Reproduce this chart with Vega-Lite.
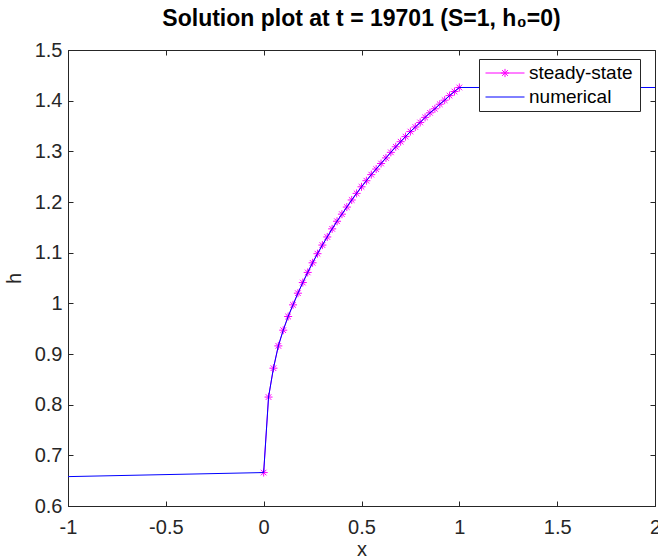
{
  "$schema": "https://vega.github.io/schema/vega-lite/v6.json",
  "width": 587,
  "height": 456,
  "autosize": {"type": "none"},
  "padding": {"left": 68, "top": 50, "right": 3, "bottom": 54},
  "background": "white",
  "title": {
    "text": "Solution plot at t = 19701 (S=1, h₀=0)",
    "font": "Liberation Sans",
    "fontSize": 23,
    "fontWeight": "bold",
    "color": "#000000",
    "anchor": "middle",
    "offset": 9
  },
  "datasets": {
    "steady": [
      {"x": 0, "h": 0.666, "series": "steady-state"},
      {"x": 0.025, "h": 0.815, "series": "steady-state"},
      {"x": 0.05, "h": 0.872, "series": "steady-state"},
      {"x": 0.075, "h": 0.916, "series": "steady-state"},
      {"x": 0.1, "h": 0.947, "series": "steady-state"},
      {"x": 0.125, "h": 0.974, "series": "steady-state"},
      {"x": 0.15, "h": 0.997, "series": "steady-state"},
      {"x": 0.175, "h": 1.02, "series": "steady-state"},
      {"x": 0.2, "h": 1.041, "series": "steady-state"},
      {"x": 0.225, "h": 1.061, "series": "steady-state"},
      {"x": 0.25, "h": 1.08, "series": "steady-state"},
      {"x": 0.275, "h": 1.098, "series": "steady-state"},
      {"x": 0.3, "h": 1.115, "series": "steady-state"},
      {"x": 0.325, "h": 1.131, "series": "steady-state"},
      {"x": 0.35, "h": 1.147, "series": "steady-state"},
      {"x": 0.375, "h": 1.162, "series": "steady-state"},
      {"x": 0.4, "h": 1.176, "series": "steady-state"},
      {"x": 0.425, "h": 1.19, "series": "steady-state"},
      {"x": 0.45, "h": 1.204, "series": "steady-state"},
      {"x": 0.475, "h": 1.217, "series": "steady-state"},
      {"x": 0.5, "h": 1.23, "series": "steady-state"},
      {"x": 0.525, "h": 1.242, "series": "steady-state"},
      {"x": 0.55, "h": 1.254, "series": "steady-state"},
      {"x": 0.575, "h": 1.265, "series": "steady-state"},
      {"x": 0.6, "h": 1.276, "series": "steady-state"},
      {"x": 0.625, "h": 1.287, "series": "steady-state"},
      {"x": 0.65, "h": 1.298, "series": "steady-state"},
      {"x": 0.675, "h": 1.309, "series": "steady-state"},
      {"x": 0.7, "h": 1.319, "series": "steady-state"},
      {"x": 0.725, "h": 1.329, "series": "steady-state"},
      {"x": 0.75, "h": 1.339, "series": "steady-state"},
      {"x": 0.775, "h": 1.348, "series": "steady-state"},
      {"x": 0.8, "h": 1.357, "series": "steady-state"},
      {"x": 0.825, "h": 1.367, "series": "steady-state"},
      {"x": 0.85, "h": 1.376, "series": "steady-state"},
      {"x": 0.875, "h": 1.384, "series": "steady-state"},
      {"x": 0.9, "h": 1.393, "series": "steady-state"},
      {"x": 0.925, "h": 1.401, "series": "steady-state"},
      {"x": 0.95, "h": 1.41, "series": "steady-state"},
      {"x": 0.975, "h": 1.418, "series": "steady-state"},
      {"x": 1, "h": 1.426, "series": "steady-state"}
    ],
    "numerical": [
      {"x": -1, "h": 0.658, "series": "numerical"},
      {"x": 0, "h": 0.666, "series": "numerical"},
      {"x": 0.025, "h": 0.815, "series": "numerical"},
      {"x": 0.05, "h": 0.872, "series": "numerical"},
      {"x": 0.075, "h": 0.916, "series": "numerical"},
      {"x": 0.1, "h": 0.947, "series": "numerical"},
      {"x": 0.125, "h": 0.974, "series": "numerical"},
      {"x": 0.15, "h": 0.997, "series": "numerical"},
      {"x": 0.175, "h": 1.02, "series": "numerical"},
      {"x": 0.2, "h": 1.041, "series": "numerical"},
      {"x": 0.225, "h": 1.061, "series": "numerical"},
      {"x": 0.25, "h": 1.08, "series": "numerical"},
      {"x": 0.275, "h": 1.098, "series": "numerical"},
      {"x": 0.3, "h": 1.115, "series": "numerical"},
      {"x": 0.325, "h": 1.131, "series": "numerical"},
      {"x": 0.35, "h": 1.147, "series": "numerical"},
      {"x": 0.375, "h": 1.162, "series": "numerical"},
      {"x": 0.4, "h": 1.176, "series": "numerical"},
      {"x": 0.425, "h": 1.19, "series": "numerical"},
      {"x": 0.45, "h": 1.204, "series": "numerical"},
      {"x": 0.475, "h": 1.217, "series": "numerical"},
      {"x": 0.5, "h": 1.23, "series": "numerical"},
      {"x": 0.525, "h": 1.242, "series": "numerical"},
      {"x": 0.55, "h": 1.254, "series": "numerical"},
      {"x": 0.575, "h": 1.265, "series": "numerical"},
      {"x": 0.6, "h": 1.276, "series": "numerical"},
      {"x": 0.625, "h": 1.287, "series": "numerical"},
      {"x": 0.65, "h": 1.298, "series": "numerical"},
      {"x": 0.675, "h": 1.309, "series": "numerical"},
      {"x": 0.7, "h": 1.319, "series": "numerical"},
      {"x": 0.725, "h": 1.329, "series": "numerical"},
      {"x": 0.75, "h": 1.339, "series": "numerical"},
      {"x": 0.775, "h": 1.348, "series": "numerical"},
      {"x": 0.8, "h": 1.357, "series": "numerical"},
      {"x": 0.825, "h": 1.367, "series": "numerical"},
      {"x": 0.85, "h": 1.376, "series": "numerical"},
      {"x": 0.875, "h": 1.384, "series": "numerical"},
      {"x": 0.9, "h": 1.393, "series": "numerical"},
      {"x": 0.925, "h": 1.401, "series": "numerical"},
      {"x": 0.95, "h": 1.41, "series": "numerical"},
      {"x": 0.975, "h": 1.418, "series": "numerical"},
      {"x": 1, "h": 1.426, "series": "numerical"},
      {"x": 2, "h": 1.426, "series": "numerical"}
    ]
  },
  "config": {
    "view": {"stroke": "#262626", "strokeWidth": 1},
    "axis": {
      "grid": false,
      "domainColor": "#262626",
      "domainWidth": 1,
      "tickColor": "#262626",
      "tickWidth": 1,
      "tickSize": 5,
      "labelColor": "#262626",
      "labelFont": "Liberation Sans",
      "labelFontSize": 20,
      "titleColor": "#262626",
      "titleFont": "Liberation Sans",
      "titleFontSize": 20,
      "titleFontWeight": "normal"
    }
  },
  "resolve": {"axis": {"x": "independent", "y": "independent"}},
  "layer": [
    {
      "data": {"name": "steady"},
      "mark": {"type": "line", "strokeWidth": 1, "clip": true},
      "encoding": {
        "x": {
          "field": "x", "type": "quantitative",
          "scale": {"domain": [-1, 2], "nice": false, "zero": false},
          "axis": {
            "orient": "bottom", "title": "x",
            "values": [-1, -0.5, 0, 0.5, 1, 1.5, 2],
            "labelExpr": "toString(datum.value)",
            "ticks": false,
            "labelPadding": 11, "titlePadding": 2, "labelFlush": false
          }
        },
        "y": {
          "field": "h", "type": "quantitative",
          "scale": {"domain": [0.6, 1.5], "nice": false, "zero": false},
          "axis": {
            "orient": "left", "title": "h",
            "values": [0.6, 0.7, 0.8, 0.9, 1, 1.1, 1.2, 1.3, 1.4, 1.5],
            "labelExpr": "toString(datum.value)",
            "ticks": false,
            "labelPadding": 6, "titlePadding": 10, "labelFlush": false
          }
        },
        "color": {
          "field": "series", "type": "nominal",
          "scale": {"domain": ["steady-state", "numerical"], "range": ["#ff00ff", "#0000ff"]},
          "legend": {
            "title": null,
            "orient": "none",
            "legendX": 411,
            "legendY": 9,
            "fillColor": "white",
            "strokeColor": "#262626",
            "padding": 2,
            "symbolSize": 1521,
            "symbolStrokeWidth": 1,
            "symbolOffset": 4,
            "clipHeight": 24,
            "rowPadding": 0,
            "labelFont": "Liberation Sans",
            "labelFontSize": 19,
            "labelColor": "#000000",
            "labelOffset": 4,
            "labelExpr": "datum.label + '\u00a0\u200b'",
            "encode": {
              "symbols": {
                "update": {
                  "shape": [
                    {"test": "datum.value === 'steady-state'", "value": "M-1,0H1M-0.21,0H0.21M0,-0.21V0.21M-0.15,-0.15L0.15,0.15M-0.15,0.15L0.15,-0.15"},
                    {"value": "M-1,0H1"}
                  ],
                  "fill": {"value": "transparent"},
                  "strokeWidth": {"value": 1}
                }
              }
            }
          }
        }
      }
    },
    {
      "data": {"name": "steady"},
      "mark": {
        "type": "point",
        "shape": "M-1,0H1M0,-1V1M-0.7,-0.7L0.7,0.7M-0.7,0.7L0.7,-0.7",
        "size": 64,
        "filled": false,
        "stroke": "#ff00ff",
        "strokeWidth": 1,
        "opacity": 1
      },
      "encoding": {
        "x": {
          "field": "x", "type": "quantitative",
          "axis": {
            "orient": "top", "offset": -456, "title": null, "labels": false, "domain": false,
            "values": [-1, -0.5, 0, 0.5, 1, 1.5, 2]
          }
        },
        "y": {
          "field": "h", "type": "quantitative",
          "axis": {
            "orient": "right", "offset": -587, "title": null, "labels": false, "domain": false,
            "values": [0.6, 0.7, 0.8, 0.9, 1, 1.1, 1.2, 1.3, 1.4, 1.5]
          }
        }
      }
    },
    {
      "data": {"name": "numerical"},
      "mark": {"type": "line", "strokeWidth": 1, "clip": true},
      "encoding": {
        "x": {
          "field": "x", "type": "quantitative",
          "axis": {
            "orient": "bottom", "offset": -456, "title": null, "labels": false, "domain": false,
            "values": [-1, -0.5, 0, 0.5, 1, 1.5, 2]
          }
        },
        "y": {
          "field": "h", "type": "quantitative",
          "axis": {
            "orient": "left", "offset": -587, "title": null, "labels": false, "domain": false,
            "values": [0.6, 0.7, 0.8, 0.9, 1, 1.1, 1.2, 1.3, 1.4, 1.5]
          }
        },
        "color": {"field": "series", "type": "nominal"}
      }
    }
  ]
}
